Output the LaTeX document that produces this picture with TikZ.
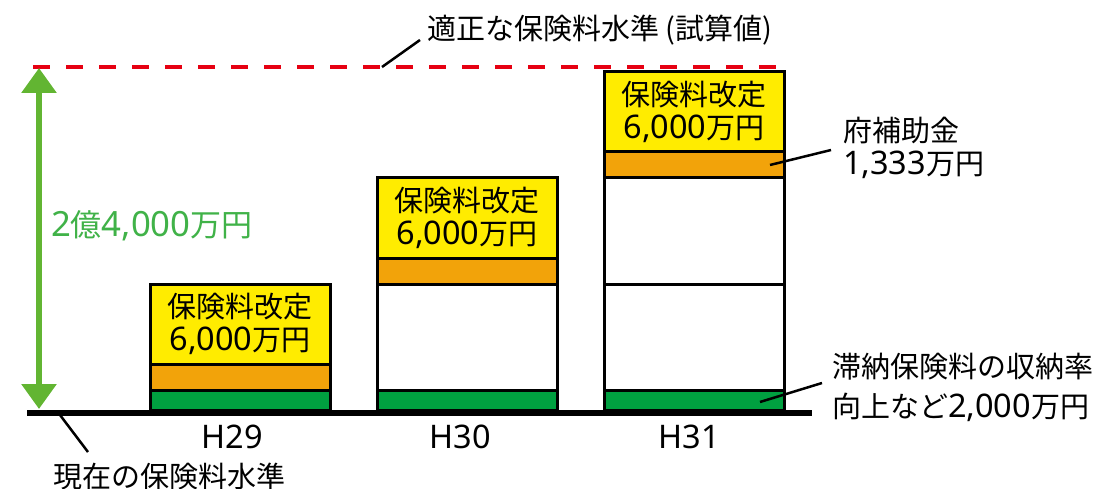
\documentclass[tikz,border=0pt]{standalone}
\usepackage{fontspec}
\setmainfont{Noto Sans CJK JP}
\newfontfamily\westfont[Scale=1.12]{Noto Sans}
\newcommand{\digs}[1]{{\westfont #1}}
\usetikzlibrary{positioning, arrows.meta}

\definecolor{barYellow}{RGB}{255,236,0}
\definecolor{barOrange}{RGB}{242,163,10}
\definecolor{barGreen}{RGB}{0,160,64}
\definecolor{gapGreen}{RGB}{98,181,50}
\definecolor{gapText}{RGB}{64,178,72}
\definecolor{levelRed}{RGB}{230,0,18}

\begin{document}
\begin{tikzpicture}[x=1pt,y=-1pt,
                    every node/.style={font=\fontsize{29}{33}\selectfont, inner sep=0pt, outer sep=0pt},
                    seg/.style={draw, line width=3pt, minimum width=180pt, anchor=south},
                    lbl/.style={anchor=west, align=left},
                    leader/.style={line width=2.5pt}]
                        \useasboundingbox (0,0) rectangle (1094,489);
                        % H29
                        \node[seg, fill=barGreen,  minimum height=20pt]                (h29_g) at (240,410)         {};
                        \node[seg, fill=barOrange, minimum height=26pt]                (h29_o) [above=0pt of h29_g] {};
                        \node[seg, fill=barYellow, minimum height=80pt, align=center]  (h29_y) [above=0pt of h29_o] {保険料改定\\\digs{6,000}万円};
                        % H30
                        \node[seg, fill=barGreen,  minimum height=20pt]                (h30_g) at (467,410)         {};
                        \node[seg, fill=white,     minimum height=106pt]               (h30_w) [above=0pt of h30_g] {};
                        \node[seg, fill=barOrange, minimum height=26pt]                (h30_o) [above=0pt of h30_w] {};
                        \node[seg, fill=barYellow, minimum height=80pt, align=center]  (h30_y) [above=0pt of h30_o] {保険料改定\\\digs{6,000}万円};
                        % H31
                        \node[seg, fill=barGreen,  minimum height=20pt]                (h31_g)  at (694,410)          {};
                        \node[seg, fill=white,     minimum height=106pt]               (h31_w1) [above=0pt of h31_g]  {};
                        \node[seg, fill=white,     minimum height=106pt]               (h31_w2) [above=0pt of h31_w1] {};
                        \node[seg, fill=barOrange, minimum height=26pt]                (h31_o)  [above=0pt of h31_w2] {};
                        \node[seg, fill=barYellow, minimum height=80pt, align=center]  (h31_y)  [above=0pt of h31_o]  {保険料改定\\\digs{6,000}万円};
                        % base and level
                        \coordinate (base_w)  at (27,413);
                        \coordinate (base_e)  at (812,413);
                        \coordinate (level_w) at (33,67);
                        \coordinate (level_e) at (778,67);
                        \draw[line width=6pt] (base_w) -- (base_e);
                        \draw[levelRed, line width=3.2pt, dash pattern=on 17pt off 16pt] (level_w) -- (level_e);
                        % years
                        \node (h29) at (232,437) {\digs{H29}};
                        \node (h30) at (460,437) {\digs{H30}};
                        \node (h31) at (689,437) {\digs{H31}};
                        % gap arrow
                        \coordinate (gap_t) at (39,68);
                        \coordinate (gap_b) at (39,409);
                        \draw[gapGreen, line width=6pt, {Triangle[width=34pt,length=25pt]}-{Triangle[width=34pt,length=25pt]}] (gap_t) -- (gap_b);
                        \node[lbl, text=gapText, font=\fontsize{31}{35}\selectfont] (gap) at (51,226) {\digs{2}億\digs{4,000}万円};
                        % labels
                        \node[lbl]                    (title)   at (427,30)  {適正な保険料水準 (試算値)};
                        \node[lbl]                    (now)     at (53,476)  {現在の保険料水準};
                        \node[lbl]                    (subsidy) at (843,148) {府補助金\\\digs{1,333}万円};
                        \node[lbl]                    (arrears) at (832,387) {滞納保険料の収納率\\[7pt]向上など\digs{2,000}万円};
                        \coordinate (title_f)   at (420,40);
                        \coordinate (level_m)   at (382,67);
                        \coordinate (now_f)     at (88,452);
                        \coordinate (base_m)    at (60,415);
                        \coordinate (subsidy_f) at (831,150);
                        \coordinate (arrears_f) at (822,383);
                        \draw[leader] (level_m)         -- (title_f);
                        \draw[leader] (base_m)          -- (now_f);
                        \draw[leader] ([xshift=-14pt]h31_o.east) -- (subsidy_f);
                        \draw[leader] ([xshift=-24pt,yshift=-2pt]h31_g.east) -- (arrears_f);
\end{tikzpicture}
\end{document}
